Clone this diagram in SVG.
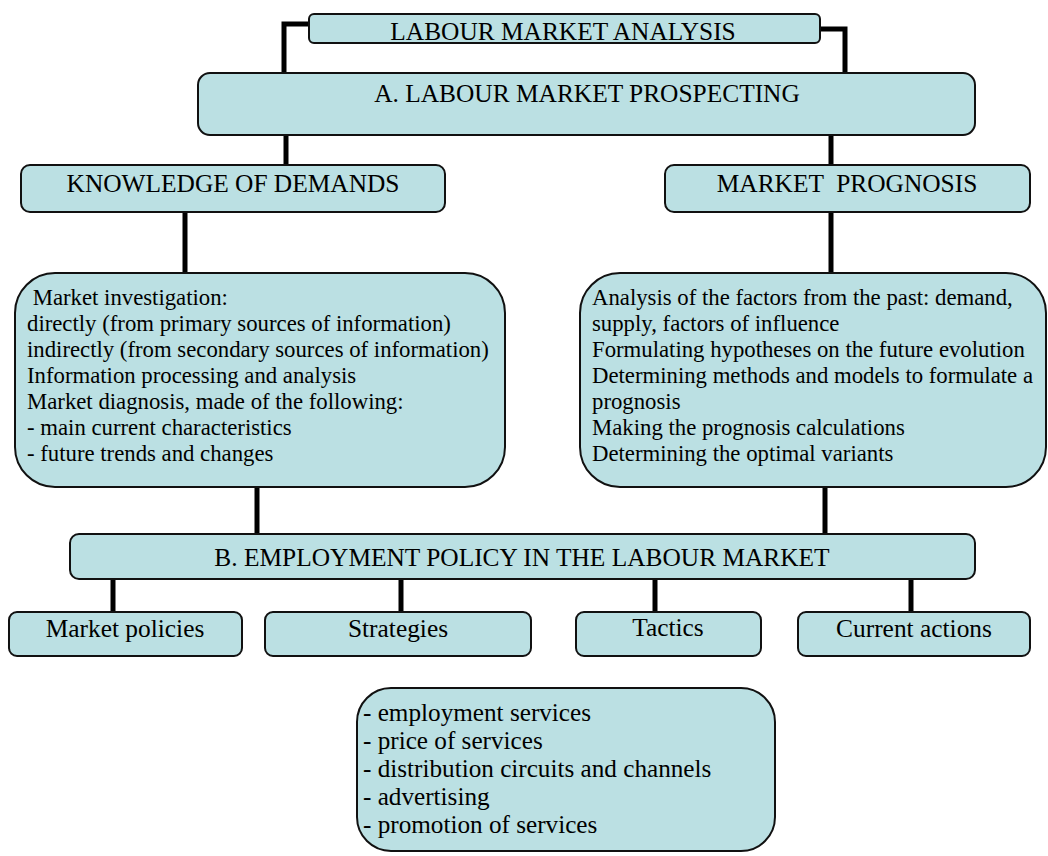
<svg xmlns="http://www.w3.org/2000/svg" width="1048" height="856" viewBox="0 0 1048 856">
  <style>
    .box { fill: #BBE0E3; stroke: #111; stroke-width: 2; }
    .link { fill: none; stroke: #000; stroke-width: 5; }
    .h { font-family: "Liberation Serif", "Times New Roman", serif; font-size: 25.4px; fill: #000; text-anchor: middle; }
    .t { font-family: "Liberation Serif", "Times New Roman", serif; font-size: 22.75px; fill: #000; white-space: pre; }
    .l { font-family: "Liberation Serif", "Times New Roman", serif; font-size: 25.2px; fill: #000; white-space: pre; }
  </style>
  <rect width="1048" height="856" fill="#fff"/>

  <!-- connectors -->
  <g id="connectors">
    <path class="link" d="M309,24 H284 V74"/>
    <path class="link" d="M820,29 H845 V74"/>
    <path class="link" d="M286,134 V166"/>
    <path class="link" d="M831,134 V166"/>
    <path class="link" d="M185,211 V274"/>
    <path class="link" d="M831,211 V274"/>
    <path class="link" d="M257,486 V535"/>
    <path class="link" d="M825,486 V535"/>
    <path class="link" d="M113,578 V613"/>
    <path class="link" d="M401,578 V613"/>
    <path class="link" d="M655,578 V613"/>
    <path class="link" d="M911,578 V613"/>
  </g>

  <g id="analysis">
    <rect class="box" x="309" y="14" width="511" height="29" rx="5"/>
    <text class="h" x="563" y="40">LABOUR MARKET ANALYSIS</text>
  </g>

  <g id="prospecting">
    <rect class="box" x="198" y="73" width="777" height="62" rx="12"/>
    <text class="h" x="587" y="102">A. LABOUR MARKET PROSPECTING</text>
  </g>

  <g id="knowledge">
    <rect class="box" x="21" y="165" width="424" height="47" rx="9"/>
    <text class="h" x="233" y="192">KNOWLEDGE OF DEMANDS</text>
  </g>

  <g id="prognosis">
    <rect class="box" x="665" y="165" width="365" height="47" rx="9"/>
    <text class="h" x="847" y="192" style="white-space: pre">MARKET  PROGNOSIS</text>
  </g>

  <g id="investigation">
    <rect class="box" x="15" y="273" width="490" height="214" rx="40"/>
    <text class="t" x="27" y="305"> Market investigation:</text>
    <text class="t" x="27" y="331">directly (from primary sources of information)</text>
    <text class="t" x="27" y="357">indirectly (from secondary sources of information)</text>
    <text class="t" x="27" y="383">Information processing and analysis</text>
    <text class="t" x="27" y="409">Market diagnosis, made of the following:</text>
    <text class="t" x="27" y="435">- main current characteristics</text>
    <text class="t" x="27" y="461">- future trends and changes</text>
  </g>

  <g id="forecast">
    <rect class="box" x="580" y="273" width="466" height="214" rx="40"/>
    <text class="t" x="592" y="305">Analysis of the factors from the past: demand,</text>
    <text class="t" x="592" y="331">supply, factors of influence</text>
    <text class="t" x="592" y="357">Formulating hypotheses on the future evolution</text>
    <text class="t" x="592" y="383">Determining methods and models to formulate a</text>
    <text class="t" x="592" y="409">prognosis</text>
    <text class="t" x="592" y="435">Making the prognosis calculations</text>
    <text class="t" x="592" y="461">Determining the optimal variants</text>
  </g>

  <g id="employment-policy">
    <rect class="box" x="70" y="534" width="905" height="45" rx="9"/>
    <text class="h" x="522" y="566">B. EMPLOYMENT POLICY IN THE LABOUR MARKET</text>
  </g>

  <g id="market-policies">
    <rect class="box" x="9" y="612" width="233" height="44" rx="8"/>
    <text class="h" x="125" y="637">Market policies</text>
  </g>

  <g id="strategies">
    <rect class="box" x="265" y="612" width="266" height="44" rx="8"/>
    <text class="h" x="398" y="637">Strategies</text>
  </g>

  <g id="tactics">
    <rect class="box" x="576" y="612" width="185" height="44" rx="8"/>
    <text class="h" x="668" y="636">Tactics</text>
  </g>

  <g id="current-actions">
    <rect class="box" x="798" y="612" width="232" height="44" rx="8"/>
    <text class="h" x="914" y="637">Current actions</text>
  </g>

  <g id="marketing-mix">
    <rect class="box" x="357" y="688" width="418" height="163" rx="34"/>
    <text class="l" x="363" y="721">- employment services</text>
    <text class="l" x="363" y="749">- price of services</text>
    <text class="l" x="363" y="777">- distribution circuits and channels</text>
    <text class="l" x="363" y="805">- advertising</text>
    <text class="l" x="363" y="833">- promotion of services</text>
  </g>
</svg>
